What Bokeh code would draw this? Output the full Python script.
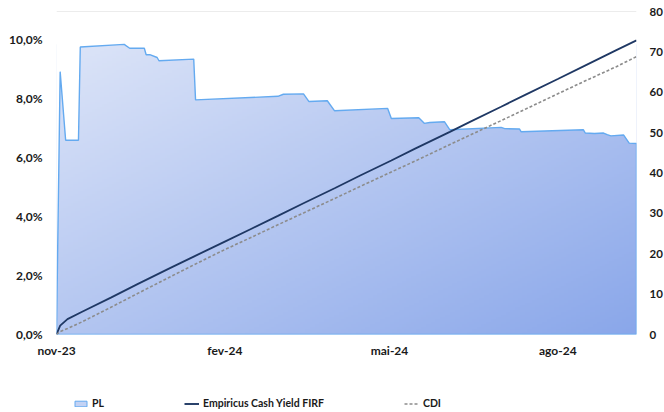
import numpy as np
import pandas as pd
from bokeh.plotting import figure
from bokeh.layouts import column
from bokeh.models import Range1d, LinearAxis, FixedTicker, Span, Legend, LegendItem
from bokeh.embed import file_html
from bokeh.resources import INLINE

start_date = "2023-11-01"

# cumulative returns (%), left axis
line_dates = ["2023-11-01", "2023-11-03", "2023-11-07", "2023-11-15", "2023-12-01", "2023-12-15",
              "2024-01-02", "2024-01-15", "2024-02-01", "2024-02-15", "2024-03-01", "2024-03-15",
              "2024-04-01", "2024-04-15", "2024-05-02", "2024-05-15", "2024-06-03", "2024-06-14",
              "2024-07-01", "2024-07-15", "2024-08-01", "2024-08-15", "2024-09-02", "2024-09-13"]
empiricus_pct = [0.00, 0.30, 0.52, 0.77, 1.26, 1.70, 2.25, 2.64, 3.15, 3.57, 4.02, 4.45,
                 4.96, 5.39, 5.90, 6.30, 6.87, 7.21, 7.72, 8.15, 8.66, 9.09, 9.64, 9.97]
cdi_pct = [0.00, 0.10, 0.20, 0.43, 0.93, 1.38, 1.95, 2.36, 2.88, 3.28, 3.72, 4.12,
           4.61, 5.02, 5.51, 5.88, 6.44, 6.76, 7.25, 7.66, 8.16, 8.57, 9.08, 9.42]

# PL (R$ mm), right axis
pl_dates = ["2023-11-01", "2023-11-03", "2023-11-06", "2023-11-13", "2023-11-14", "2023-12-08",
            "2023-12-11", "2023-12-19", "2023-12-20", "2023-12-22", "2023-12-26", "2023-12-27",
            "2024-01-15", "2024-01-16", "2024-03-01", "2024-03-04", "2024-03-15", "2024-03-18",
            "2024-03-28", "2024-04-01", "2024-04-30", "2024-05-02", "2024-05-17", "2024-05-20",
            "2024-05-23", "2024-05-31", "2024-06-03", "2024-07-01", "2024-07-03", "2024-07-11",
            "2024-07-12", "2024-08-15", "2024-08-16", "2024-08-21", "2024-08-26", "2024-08-28",
            "2024-08-30", "2024-09-06", "2024-09-09", "2024-09-13"]
pl_mm = [0.0, 65.1, 48.1, 48.1, 71.2, 71.85,
         70.9, 70.9, 69.3, 69.3, 68.6, 67.8,
         68.2, 58.1, 59.0, 59.5, 59.6, 57.7,
         57.9, 55.4, 56.0, 53.5, 53.7, 52.3,
         52.5, 52.7, 50.7, 51.3, 51.0, 50.9,
         50.2, 50.7, 49.9, 49.8, 49.9, 49.5,
         49.2, 49.4, 47.4, 47.3]

left_ticks = [0, 2, 4, 6, 8, 10]
left_labels = ["0,0%", "2,0%", "4,0%", "6,0%", "8,0%", "10,0%"]
right_ticks = [0, 10, 20, 30, 40, 50, 60, 70, 80]
x_tick_dates = ["2023-11-01", "2024-02-01", "2024-05-01", "2024-08-01"]
x_tick_labels = ["nov-23", "fev-24", "mai-24", "ago-24"]

t0 = pd.Timestamp(start_date)
def days(ds):
    return [int((pd.Timestamp(d) - t0).days) for d in ds]

line_x = days(line_dates)
pl_x = days(pl_dates)
x_ticks = days(x_tick_dates)

FONT = "Lato"
TXT = "#1a1a1a"
PL_LINE = "#64aaf0"
EMP_COLOR = "#1f3864"
CDI_COLOR = "#8c8c8c"

xmin, xmax = min(pl_x), max(pl_x)
p = figure(frame_width=580, frame_height=323, min_border_left=56, min_border_right=28,
           min_border_top=11, min_border_bottom=42, output_backend="svg", toolbar_location=None,
           x_range=Range1d(xmin, xmax), y_range=Range1d(0, 10.95))
p.extra_y_ranges = {"pl": Range1d(0, 80)}
p.outline_line_color = None
p.background_fill_color = "white"
p.border_fill_color = "white"
p.xgrid.visible = False
p.ygrid.visible = False
p.xaxis.visible = False
p.yaxis.visible = False

# gradient fill for PL area (image underneath, masked above the PL curve)
ny, nx = 120, 240
u = np.linspace(0, 1, nx)[None, :]
v = np.linspace(0, 1, ny)[:, None]
t = (u + (1 - v)) / 2.0
c0 = np.array([221, 229, 248], dtype=float)
c1 = np.array([138, 167, 234], dtype=float)
img = np.empty((ny, nx), dtype=np.uint32)
view = img.view(dtype=np.uint8).reshape((ny, nx, 4))
for k in range(3):
    view[:, :, k] = (c0[k] + (c1[k] - c0[k]) * t).astype(np.uint8)
view[:, :, 3] = 255
p.image_rgba(image=[img], x=xmin, y=0, dw=xmax - xmin, dh=max(pl_mm), y_range_name="pl")
p.varea(x=pl_x, y1=pl_mm, y2=80, fill_color="white", y_range_name="pl")

p.add_layout(Span(location=80, dimension="width", y_range_name="pl",
                  line_color="#d9d9d9", line_width=1))

p.patch(x=pl_x + [pl_x[-1]], y=pl_mm + [0], fill_alpha=0,
        line_color=PL_LINE, line_width=1.4, y_range_name="pl")

p.line(line_x, empiricus_pct, line_color=EMP_COLOR, line_width=1.8)
p.line(line_x, cdi_pct, line_color=CDI_COLOR, line_width=1.6, line_dash="3 2")

def style_axis(ax, standoff, size="12px"):
    ax.axis_line_color = None
    ax.major_tick_line_color = None
    ax.minor_tick_line_color = None
    ax.major_label_text_font = FONT
    ax.major_label_text_font_style = "bold"
    ax.major_label_text_font_size = size
    ax.major_label_text_color = TXT
    ax.major_label_standoff = standoff

left = LinearAxis(ticker=FixedTicker(ticks=left_ticks),
                  major_label_overrides={k: s for k, s in zip(left_ticks, left_labels)})
style_axis(left, 8)
p.add_layout(left, "left")

right = LinearAxis(y_range_name="pl", ticker=FixedTicker(ticks=right_ticks))
style_axis(right, 7, "11.5px")
p.add_layout(right, "right")

bottom = LinearAxis(ticker=FixedTicker(ticks=x_ticks),
                    major_label_overrides={k: s for k, s in zip(x_ticks, x_tick_labels)})
style_axis(bottom, 2)
p.add_layout(bottom, "below")

# legend strip below the chart
lg = figure(width=664, height=34, min_border=0, output_backend="svg", toolbar_location=None,
            x_range=Range1d(0, 1), y_range=Range1d(-2, -1))
lg.outline_line_color = None
lg.axis.visible = False
lg.grid.visible = False
r_pl = lg.patch(x=pl_x, y=pl_mm, fill_color="#c3d2f4", line_color=PL_LINE, line_width=1)
r_emp = lg.line(line_x, empiricus_pct, line_color=EMP_COLOR, line_width=1.9)
r_cdi = lg.line(line_x, cdi_pct, line_color=CDI_COLOR, line_width=1.6, line_dash="3 2")
legend = Legend(items=[LegendItem(label="PL", renderers=[r_pl]),
                       LegendItem(label="Empiricus Cash Yield FIRF", renderers=[r_emp]),
                       LegendItem(label="CDI", renderers=[r_cdi])],
                orientation="horizontal", location=(17, 0), spacing=80,
                glyph_width=15, glyph_height=7, label_standoff=4, label_width=10,
                padding=0, margin=0, border_line_color=None, background_fill_alpha=0,
                label_text_font=FONT, label_text_font_style="bold",
                label_text_font_size="10.5px", label_text_color=TXT, label_height=14)
lg.add_layout(legend)

layout = column(p, lg, spacing=0)
open("out.html", "w").write(file_html(layout, INLINE))
